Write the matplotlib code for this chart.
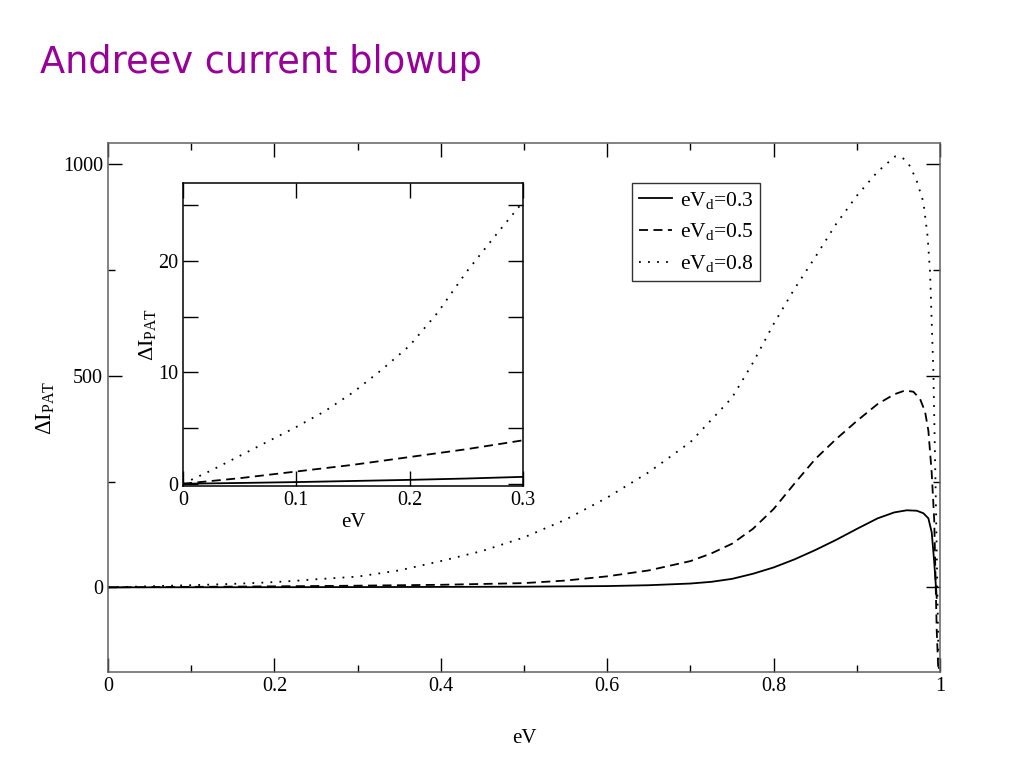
import matplotlib
matplotlib.use("Agg")
import matplotlib.pyplot as plt
from matplotlib.ticker import MultipleLocator, FuncFormatter

# values
ev_03 = [0, 0.05, 0.1, 0.15, 0.2, 0.25, 0.3, 0.4, 0.5, 0.6, 0.65, 0.7, 0.725, 0.75,
         0.775, 0.8, 0.825, 0.85, 0.875, 0.9, 0.925, 0.945, 0.96, 0.972, 0.98,
         0.986, 0.99, 0.993, 0.996]
dI_03 = [0, 0.07, 0.15, 0.25, 0.35, 0.47, 0.62, 1.0, 1.6, 3, 5, 9, 13, 20,
         32, 47, 66, 88, 112, 138, 163, 177, 182, 181, 175,
         163, 130, 60, -25]

ev_05 = [0, 0.05, 0.1, 0.15, 0.2, 0.25, 0.3, 0.4, 0.5, 0.55, 0.6, 0.65, 0.7, 0.725,
         0.75, 0.775, 0.8, 0.825, 0.85, 0.875, 0.9, 0.925, 0.945, 0.958, 0.968,
         0.976, 0.982, 0.986, 0.99, 0.993, 0.996, 1.0]
dI_05 = [0, 0.5, 1.1, 1.7, 2.4, 3.1, 3.9, 6, 10, 16, 26, 40, 62, 80,
         103, 138, 185, 245, 303, 350, 393, 433, 456, 465, 462,
         445, 415, 370, 270, 160, -100, -300]

ev_08 = [0, 0.025, 0.05, 0.075, 0.1, 0.125, 0.15, 0.175, 0.2, 0.225, 0.25, 0.275, 0.3,
         0.35, 0.4, 0.45, 0.5, 0.55, 0.6, 0.65, 0.7, 0.75, 0.775, 0.8, 0.825, 0.85,
         0.875, 0.9, 0.925, 0.946, 0.955, 0.964, 0.972, 0.98, 0.985, 0.988, 0.992,
         0.995, 0.998, 1.0]
dI_08 = [0, 1.2, 2.5, 3.8, 5.1, 6.5, 8.2, 10.2, 12.4, 15.4, 19.0, 22.2, 25.3,
         40, 62, 86, 118, 160, 212, 272, 343, 448, 530, 622, 705, 780,
         858, 925, 982, 1018, 1015, 995, 960, 910, 830, 745, 509,
         200, -150, -300]

series = [(ev_03, dI_03, '-', r'eV$_\mathrm{d}$=0.3'),
          (ev_05, dI_05, (0, (5, 3)), r'eV$_\mathrm{d}$=0.5'),
          (ev_08, dI_08, (0, (1, 4)), r'eV$_\mathrm{d}$=0.8')]

plt.rcParams['font.family'] = 'Liberation Serif'
plt.rcParams['mathtext.fontset'] = 'custom'
plt.rcParams['mathtext.rm'] = 'Liberation Serif'
plt.rcParams['mathtext.it'] = 'Liberation Serif:italic'


def fmt(v, pos):
    return ('%g' % round(v, 6))


def style_axes(ax, major_len, minor_len, color):
    ax.tick_params(which='both', direction='in', top=True, right=True,
                   labelsize=14.5, colors='black')
    ax.tick_params(which='major', length=major_len, width=1)
    ax.tick_params(which='minor', length=minor_len, width=1)
    for sp in ax.spines.values():
        sp.set_color(color)
        sp.set_linewidth(1.1)
    ax.xaxis.set_major_formatter(FuncFormatter(fmt))
    ax.yaxis.set_major_formatter(FuncFormatter(fmt))


fig = plt.figure(figsize=(10.24, 7.68), dpi=100)
fig.text(0.039, 0.905, 'Andreev current blowup', color='#990099',
         fontsize=26.5, family='DejaVu Sans')

ax = fig.add_axes([0.1055, 0.125, 0.8125, 0.689])
for x, y, ls, lab in series:
    ax.plot(x, y, color='black', linestyle=ls, linewidth=1.3, label=lab)
ax.set_xlim(0, 1)
ax.set_ylim(-200, 1050)
ax.xaxis.set_major_locator(MultipleLocator(0.2))
ax.xaxis.set_minor_locator(MultipleLocator(0.1))
ax.yaxis.set_major_locator(MultipleLocator(500))
ax.yaxis.set_minor_locator(MultipleLocator(250))
style_axes(ax, 10, 5, '#606060')
ax.set_xlabel('eV', fontsize=15, labelpad=24)
ax.set_ylabel(r'$\Delta$I$_\mathrm{PAT}$', fontsize=16.5, labelpad=4)
leg = ax.legend(loc='upper left', bbox_to_anchor=(0.63, 0.924), fontsize=15.5,
                frameon=True, fancybox=False, handlelength=1.55,
                borderpad=0.3, labelspacing=0.5, handletextpad=0.35,
                borderaxespad=0)
leg.get_frame().set_edgecolor('black')
leg.get_frame().set_linewidth(1.0)

ins = fig.add_axes([0.1787, 0.3672, 0.332, 0.3945])
for x, y, ls, lab in series:
    ins.plot(x, y, color='black', linestyle=ls, linewidth=1.3)
ins.set_xlim(0, 0.3)
ins.set_ylim(-0.2, 27)
ins.xaxis.set_major_locator(MultipleLocator(0.1))
ins.yaxis.set_major_locator(MultipleLocator(10))
ins.yaxis.set_minor_locator(MultipleLocator(5))
style_axes(ins, 11, 11, 'black')
ins.set_xlabel('eV', fontsize=15, labelpad=2)
ins.set_ylabel(r'$\Delta$I$_\mathrm{PAT}$', fontsize=16, labelpad=0)

fig.savefig('out.png', dpi=100)
